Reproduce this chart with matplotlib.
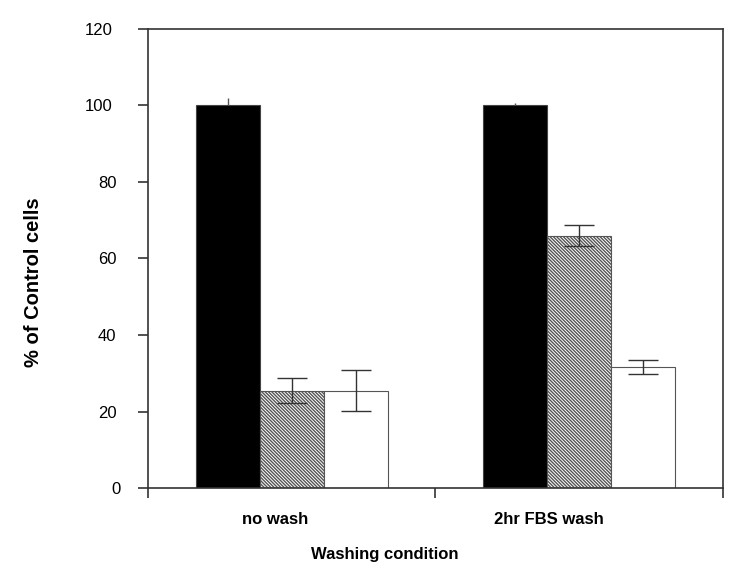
import matplotlib
matplotlib.use("Agg")
import matplotlib.pyplot as plt
import matplotlib.transforms as mtransforms
import numpy as np

plt.rcParams['font.family'] = ['Liberation Sans', 'DejaVu Sans']
plt.rcParams['hatch.linewidth'] = 1.0
plt.rcParams['hatch.color'] = '#4a4a4a'

categories = ["no wash", "2hr FBS wash"]
black_vals = [100.0, 100.0]
black_err = [2.0, 0.6]
hatch_vals = [25.5, 66.0]
hatch_err = [3.2, 2.8]
white_vals = [25.5, 31.7]
white_err = [5.3, 1.8]
yticks = [0, 20, 40, 60, 80, 100, 120]

fig = plt.figure(figsize=(7.5, 5.77), dpi=100)
ax = fig.add_axes([0.197, 0.154, 0.767, 0.796])

x = np.arange(len(categories))
w = 0.2226
edge = '#444444'
ax.bar(x - w, black_vals, w, color='black', edgecolor=edge, linewidth=0.8, zorder=2)
ax.bar(x, hatch_vals, w, color='white', edgecolor='#555555', linewidth=0.8,
       hatch='\\' * 10, zorder=2)
ax.bar(x + w, white_vals, w, color='white', edgecolor='#555555', linewidth=0.8, zorder=2)

ax.errorbar(x - w, black_vals, yerr=[np.zeros(2), black_err], fmt='none', ecolor='#555555',
            elinewidth=1.0, capsize=0, zorder=3)
ax.errorbar(x, hatch_vals, yerr=hatch_err, fmt='none', ecolor='#333333',
            elinewidth=1.0, capsize=10.5, capthick=1.0, zorder=3)
ax.errorbar(x + w, white_vals, yerr=white_err, fmt='none', ecolor='#333333',
            elinewidth=1.0, capsize=10.5, capthick=1.0, zorder=3)

ax.set_xlim(-0.5, 1.5)
ax.set_ylim(0, 120)
ax.set_yticks(yticks)
ax.set_yticklabels([str(t) for t in yticks], fontsize=12)
ax.set_xticks(x)
ax.set_xticklabels(categories, fontsize=12, fontweight='bold')
ax.tick_params(axis='x', which='major', length=0, pad=17)
ax.set_xticks([-0.5, 0.5, 1.5], minor=True)
ax.tick_params(axis='x', which='minor', length=7, direction='out', color='#333333', width=1.2)
ax.tick_params(axis='y', which='major', length=7, direction='out', color='#333333', width=1.2, pad=18.5)

# shift labels to match reference placement
for lab in ax.get_yticklabels():
    nshift = 3 - len(lab.get_text())
    lab.set_transform(lab.get_transform() +
                      mtransforms.ScaledTranslation(nshift * 0.04, 0, fig.dpi_scale_trans))
xshift = [-0.165, -0.30]
for lab, dx in zip(ax.get_xticklabels(), xshift):
    lab.set_transform(lab.get_transform() +
                      mtransforms.ScaledTranslation(dx, 0, fig.dpi_scale_trans))

for s in ax.spines.values():
    s.set_color('#333333')
    s.set_linewidth(1.2)

fig.text(33.5 / 750, (577 - 282) / 577, '% of Control cells', rotation=90,
         fontsize=14.5, fontweight='bold', ha='center', va='center')
fig.text(385 / 750, (577 - 554) / 577, 'Washing condition',
         fontsize=12, fontweight='bold', ha='center', va='center')

fig.savefig('out.png', dpi=100)
